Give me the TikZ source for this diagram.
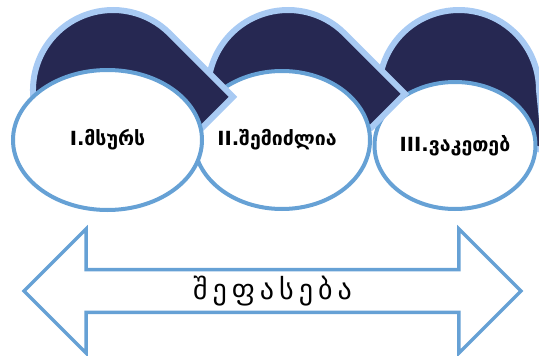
\documentclass[tikz,border=0pt]{standalone}
\usepackage{fontspec}
\newfontfamily\geofont{DejaVu Sans}
\newfontfamily\geospaced[LetterSpace=18]{DejaVu Sans}
\usetikzlibrary{shapes.geometric, shapes.arrows}
\definecolor{navy}{HTML}{262852}
\definecolor{bandrim}{HTML}{A8CAF3}
\definecolor{ringblue}{HTML}{66A1D5}

\tikzset{
  band/.style={fill=navy, draw=bandrim, line width=6pt, line join=miter},
  stage/.style={ellipse, draw=ringblue, line width=4pt, fill=white, inner sep=0pt,
    font=\geofont\bfseries\fontsize{19.5}{22}\selectfont},
}

\begin{document}
\begin{tikzpicture}[x=1pt, y=-1pt]
\useasboundingbox (0,0) rectangle (539,356);

% Third band, runs off the right edge
\draw[band] (459,90) ++(160:80) arc (160:360:80) -- (545,150) -- (459,140) -- cycle;
\node[stage, minimum width=161pt, minimum height=127pt] (s3) at (455,145.5) {III.ვაკეთებ};

% Second band
\draw[band] (288,90) ++(160:80) arc (160:315:80) -- ++(60.4,60.4) -- ++(-34,34) -- (288,135) -- cycle;
\node[stage, minimum width=176pt, minimum height=138pt] (s2) at (282,140) {\hspace*{-10pt}II.შემიძლია};

% First band
\draw[band] (113,90) ++(160:80) arc (160:315:80) -- ++(63.4,63.4) -- ++(-34,34) -- (113,135) -- cycle;
\node[stage, minimum width=189pt, minimum height=140pt] (s1) at (107.5,140) {I.მსურს};

% Double arrow underneath
\node[double arrow, draw=ringblue, line width=3.5pt, fill=white, inner sep=0pt,
  minimum height=497pt, minimum width=124pt, double arrow head extend=32pt,
  font=\geospaced\fontsize{28}{32}\selectfont] (eval) at (272.5,291) {\raisebox{-4pt}{შეფასება}};

\end{tikzpicture}
\end{document}
